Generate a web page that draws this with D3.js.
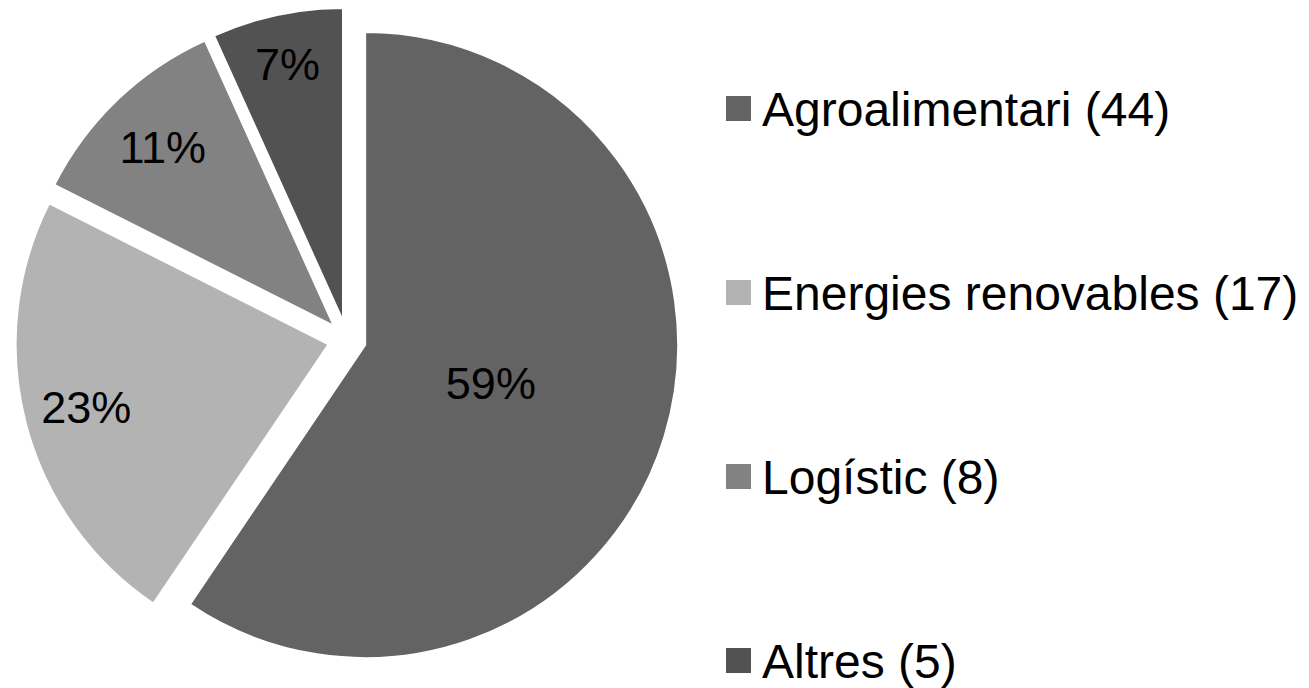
<!DOCTYPE html>
<html lang="ca">
  <head>
    <meta charset="UTF-8" />
    <title>Pie</title>
    <script src="https://d3js.org/d3.v7.min.js"></script>
    <style>
      body { margin: 0; background: #fff; }
      text { font-family: "Liberation Sans", Arial, sans-serif; }
    </style>
  </head>
  <body>
    <svg width="1309" height="688"></svg>
    <script>
      // dades
      const categories = ["Agroalimentari", "Energies renovables", "Logístic", "Altres"];
      const values = [44, 17, 8, 5];
      const colors = ["#636363", "#b3b3b3", "#828282", "#525252"];

      const svg = d3.select("svg");
      const cx = 347, cy = 339.5;
      const radius = 313;
      const explode = 19;

      const total = d3.sum(values);
      const pie = d3.pie().sort(null).value((d) => d)(values);
      const arc = d3.arc().innerRadius(0).outerRadius(radius);

      const g = svg.append("g").attr("transform", `translate(${cx},${cy})`);

      // posició de l'etiqueta (fracció del radi)
      const labelFrac = [0.42, 0.8, 0.79, 0.84];

      const slice = g
        .selectAll("g.slice")
        .data(pie)
        .join("g")
        .attr("class", "slice")
        .attr("transform", (d) => {
          const a = (d.startAngle + d.endAngle) / 2;
          return `translate(${explode * Math.sin(a)},${-explode * Math.cos(a)})`;
        });

      slice
        .append("path")
        .attr("d", arc)
        .attr("fill", (d, i) => colors[i])
        .attr("stroke", "#fff")
        .attr("stroke-width", 2);

      slice
        .append("text")
        .attr("transform", (d, i) => {
          const a = (d.startAngle + d.endAngle) / 2;
          const r = radius * labelFrac[i];
          return `translate(${r * Math.sin(a)},${-r * Math.cos(a)})`;
        })
        .attr("text-anchor", "middle")
        .attr("dy", "0.35em")
        .attr("font-size", 45)
        .attr("fill", "#000")
        .text((d) => Math.round((d.value / total) * 100) + "%");

      // llegenda
      const legend = svg
        .selectAll("g.legend")
        .data(categories)
        .join("g")
        .attr("class", "legend")
        .attr("transform", (d, i) => `translate(726,${108.5 + i * 184})`);

      legend
        .append("rect")
        .attr("x", 0)
        .attr("y", -12.5)
        .attr("width", 25)
        .attr("height", 25)
        .attr("fill", (d, i) => colors[i]);

      legend
        .append("text")
        .attr("x", 36)
        .attr("dy", "0.36em")
        .attr("font-size", 48)
        .attr("fill", "#000")
        .text((d, i) => `${d} (${values[i]})`);
    </script>
  </body>
</html>
